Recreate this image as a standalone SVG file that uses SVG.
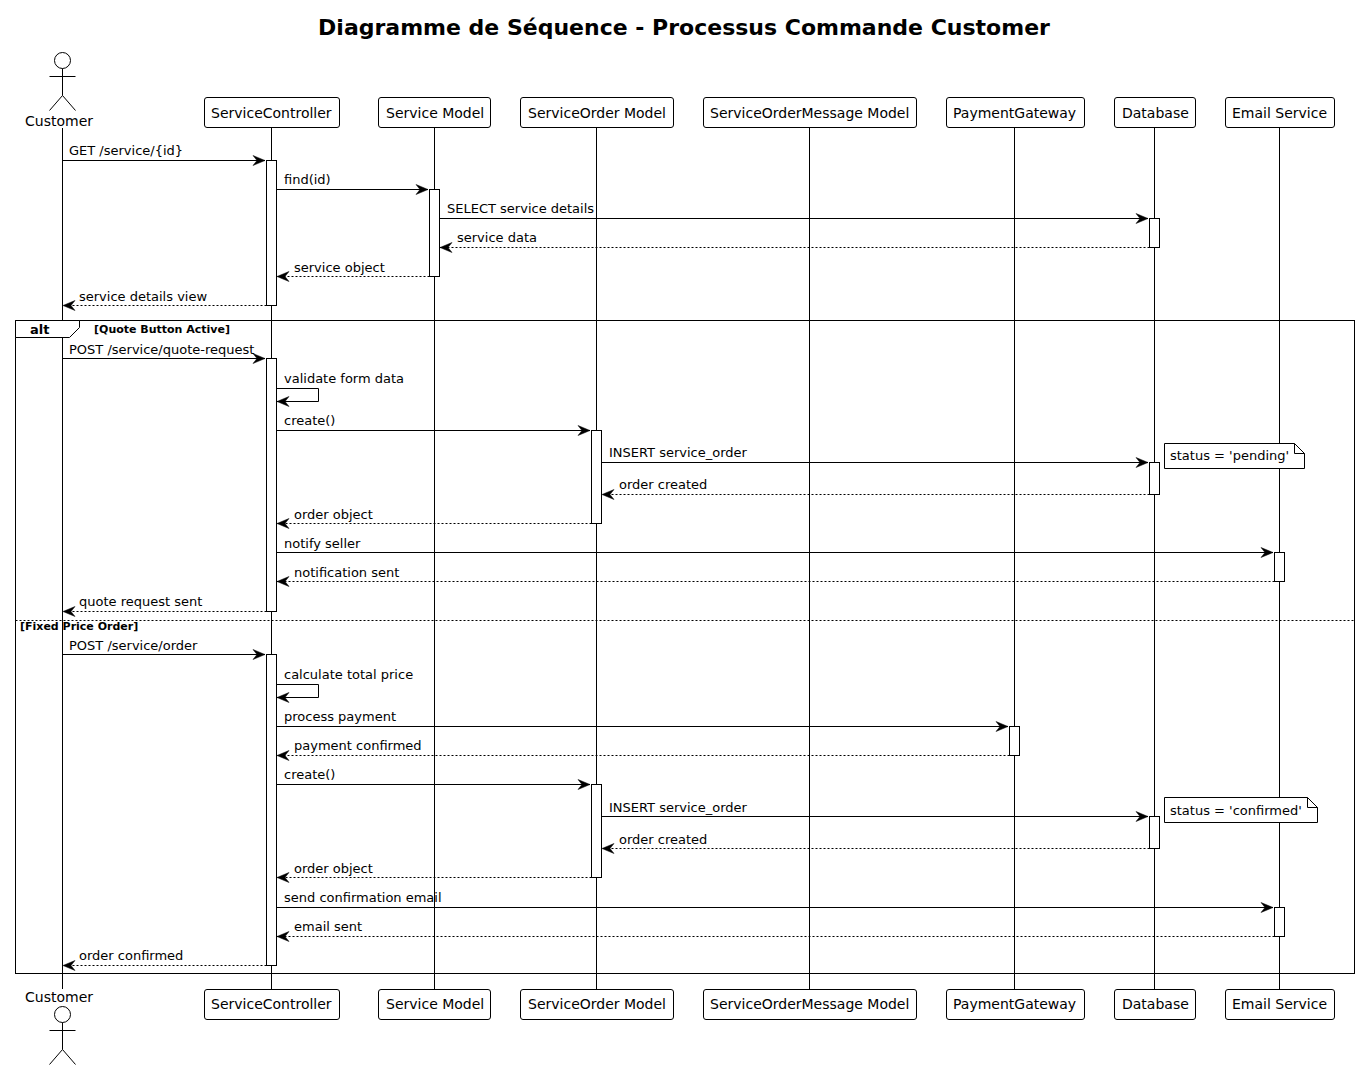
<svg xmlns="http://www.w3.org/2000/svg" width="1360" height="1070" viewBox="0 0 1360 1070">
<style>
text{font-family:"DejaVu Sans",sans-serif;font-size:13px;fill:#000}
.t{font-size:22px;font-weight:bold}
.b{font-size:11px;font-weight:bold}
.a{font-size:13px;font-weight:bold}
.n{font-size:14px}
line,path,rect,circle{stroke:#000;stroke-width:1}
.l{fill:none}
.d{stroke-dasharray:2 2}
.w{fill:#fff}
.f{fill:none}
.bg{fill:#fff;stroke:none}
.h{fill:#000;stroke-width:.5}
</style>
<defs>
<marker id="ah" markerUnits="userSpaceOnUse" markerWidth="14" markerHeight="12" refX="12.5" refY="6" orient="auto" overflow="visible"><path class="h" d="M.5 1 L12.5 6 L.5 11 L4.5 6 Z"/></marker>
<g id="actor" class="f"><circle cx="0" cy="8" r="8" class="w"/><path class="f" d="M0 16V43M-13 24H13M0 43L-13 58M0 43L13 58"/></g>
</defs>
<rect class="bg" x="0" y="0" width="1360" height="1070"/>
<text class="t" x="684" y="35" text-anchor="middle">Diagramme de Séquence - Processus Commande Customer</text>

<g id="lifelines">
<line x1="62.5" y1="128" x2="62.5" y2="989"/>
<line x1="271.5" y1="128" x2="271.5" y2="989"/>
<line x1="434.5" y1="128" x2="434.5" y2="989"/>
<line x1="596.5" y1="128" x2="596.5" y2="989"/>
<line x1="809.5" y1="128" x2="809.5" y2="989"/>
<line x1="1014.5" y1="128" x2="1014.5" y2="989"/>
<line x1="1154.5" y1="128" x2="1154.5" y2="989"/>
<line x1="1279.5" y1="128" x2="1279.5" y2="989"/>
</g>

<g id="frame">
<rect class="f" x="15.5" y="320.5" width="1339" height="653"/>
<path class="w" d="M15.5 320.5H79.5V327.5L69.5 337.5H15.5Z"/>
<text class="a" x="30" y="334">alt</text>
<text class="b" x="94" y="333">[Quote Button Active]</text>
<line class="d" x1="15.5" y1="620.5" x2="1354.5" y2="620.5"/>
<text class="b" x="20" y="630">[Fixed Price Order]</text>
</g>

<g id="activations">
<rect class="w" x="266.5" y="160.5" width="10" height="145"/>
<rect class="w" x="429.5" y="189.5" width="10" height="87"/>
<rect class="w" x="1149.5" y="218.5" width="10" height="29"/>
<rect class="w" x="266.5" y="358.5" width="10" height="253"/>
<rect class="w" x="591.5" y="430.5" width="10" height="93"/>
<rect class="w" x="1149.5" y="462.5" width="10" height="32"/>
<rect class="w" x="1274.5" y="552.5" width="10" height="29"/>
<rect class="w" x="266.5" y="654.5" width="10" height="311"/>
<rect class="w" x="1009.5" y="726.5" width="10" height="29"/>
<rect class="w" x="591.5" y="784.5" width="10" height="93"/>
<rect class="w" x="1149.5" y="816.5" width="10" height="32"/>
<rect class="w" x="1274.5" y="907.5" width="10" height="29"/>
</g>

<g id="connectors" marker-end="url(#ah)">
<line x1="62.5" y1="160.5" x2="265" y2="160.5"/>
<line x1="276.5" y1="189.5" x2="428" y2="189.5"/>
<line x1="439.5" y1="218.5" x2="1148" y2="218.5"/>
<line class="d" x1="1149.5" y1="247.5" x2="440" y2="247.5"/>
<line class="d" x1="429.5" y1="276.5" x2="277" y2="276.5"/>
<line class="d" x1="266.5" y1="305.5" x2="63" y2="305.5"/>
<line x1="62.5" y1="358.5" x2="265" y2="358.5"/>
<path class="l" d="M276.5 388.5H318.5V401.5H277"/>
<line x1="276.5" y1="430.5" x2="590" y2="430.5"/>
<line x1="601.5" y1="462.5" x2="1148" y2="462.5"/>
<line class="d" x1="1149.5" y1="494.5" x2="602" y2="494.5"/>
<line class="d" x1="591.5" y1="523.5" x2="277" y2="523.5"/>
<line x1="276.5" y1="552.5" x2="1273" y2="552.5"/>
<line class="d" x1="1274.5" y1="581.5" x2="277" y2="581.5"/>
<line class="d" x1="266.5" y1="611.5" x2="63" y2="611.5"/>
<line x1="62.5" y1="654.5" x2="265" y2="654.5"/>
<path class="l" d="M276.5 684.5H318.5V697.5H277"/>
<line x1="276.5" y1="726.5" x2="1008" y2="726.5"/>
<line class="d" x1="1009.5" y1="755.5" x2="277" y2="755.5"/>
<line x1="276.5" y1="784.5" x2="590" y2="784.5"/>
<line x1="601.5" y1="816.5" x2="1148" y2="816.5"/>
<line class="d" x1="1149.5" y1="848.5" x2="602" y2="848.5"/>
<line class="d" x1="591.5" y1="877.5" x2="277" y2="877.5"/>
<line x1="276.5" y1="907.5" x2="1273" y2="907.5"/>
<line class="d" x1="1274.5" y1="936.5" x2="277" y2="936.5"/>
<line class="d" x1="266.5" y1="965.5" x2="63" y2="965.5"/>
</g>

<g id="labels">
<text x="69" y="155">GET /service/{id}</text>
<text x="284" y="184">find(id)</text>
<text x="447" y="213">SELECT service details</text>
<text x="457" y="242">service data</text>
<text x="294" y="272">service object</text>
<text x="79" y="301">service details view</text>
<text x="69" y="354">POST /service/quote-request</text>
<text x="284" y="383">validate form data</text>
<text x="284" y="425">create()</text>
<text x="609" y="457">INSERT service_order</text>
<text x="619" y="489">order created</text>
<text x="294" y="519">order object</text>
<text x="284" y="548">notify seller</text>
<text x="294" y="577">notification sent</text>
<text x="79" y="606">quote request sent</text>
<text x="69" y="650">POST /service/order</text>
<text x="284" y="679">calculate total price</text>
<text x="284" y="721">process payment</text>
<text x="294" y="750">payment confirmed</text>
<text x="284" y="779">create()</text>
<text x="609" y="812">INSERT service_order</text>
<text x="619" y="844">order created</text>
<text x="294" y="873">order object</text>
<text x="284" y="902">send confirmation email</text>
<text x="294" y="931">email sent</text>
<text x="79" y="960">order confirmed</text>
</g>

<g id="note1">
<path class="w" d="M1164.5 443.5H1294.5L1304.5 453.5V468.5H1164.5Z"/>
<path class="f" d="M1294.5 443.5V453.5H1304.5"/>
<text x="1170" y="460">status = 'pending'</text>
</g>
<g id="note2">
<path class="w" d="M1164.5 797.5H1307.5L1317.5 807.5V822.5H1164.5Z"/>
<path class="f" d="M1307.5 797.5V807.5H1317.5"/>
<text x="1170" y="815">status = 'confirmed'</text>
</g>

<g id="customer-top"><use href="#actor" x="62.5" y="52.5"/><text class="n" x="25" y="126">Customer</text></g>
<g id="customer-bottom"><use href="#actor" x="62.5" y="1006.5"/><text class="n" x="25" y="1002">Customer</text></g>

<g id="service-controller-top"><rect class="w" x="204.5" y="97.5" width="135" height="30" rx="2.5"/><text class="n" x="211" y="118">ServiceController</text></g>
<g id="service-model-top"><rect class="w" x="378.5" y="97.5" width="112" height="30" rx="2.5"/><text class="n" x="386" y="118">Service Model</text></g>
<g id="service-order-model-top"><rect class="w" x="520.5" y="97.5" width="153" height="30" rx="2.5"/><text class="n" x="528" y="118">ServiceOrder Model</text></g>
<g id="service-order-message-model-top"><rect class="w" x="703.5" y="97.5" width="213" height="30" rx="2.5"/><text class="n" x="710" y="118">ServiceOrderMessage Model</text></g>
<g id="payment-gateway-top"><rect class="w" x="946.5" y="97.5" width="138" height="30" rx="2.5"/><text class="n" x="953" y="118">PaymentGateway</text></g>
<g id="database-top"><rect class="w" x="1114.5" y="97.5" width="81" height="30" rx="2.5"/><text class="n" x="1122" y="118">Database</text></g>
<g id="email-service-top"><rect class="w" x="1225.5" y="97.5" width="109" height="30" rx="2.5"/><text class="n" x="1232" y="118">Email Service</text></g>

<g id="service-controller-bottom"><rect class="w" x="204.5" y="989.5" width="135" height="30" rx="2.5"/><text class="n" x="211" y="1009">ServiceController</text></g>
<g id="service-model-bottom"><rect class="w" x="378.5" y="989.5" width="112" height="30" rx="2.5"/><text class="n" x="386" y="1009">Service Model</text></g>
<g id="service-order-model-bottom"><rect class="w" x="520.5" y="989.5" width="153" height="30" rx="2.5"/><text class="n" x="528" y="1009">ServiceOrder Model</text></g>
<g id="service-order-message-model-bottom"><rect class="w" x="703.5" y="989.5" width="213" height="30" rx="2.5"/><text class="n" x="710" y="1009">ServiceOrderMessage Model</text></g>
<g id="payment-gateway-bottom"><rect class="w" x="946.5" y="989.5" width="138" height="30" rx="2.5"/><text class="n" x="953" y="1009">PaymentGateway</text></g>
<g id="database-bottom"><rect class="w" x="1114.5" y="989.5" width="81" height="30" rx="2.5"/><text class="n" x="1122" y="1009">Database</text></g>
<g id="email-service-bottom"><rect class="w" x="1225.5" y="989.5" width="109" height="30" rx="2.5"/><text class="n" x="1232" y="1009">Email Service</text></g>
</svg>
